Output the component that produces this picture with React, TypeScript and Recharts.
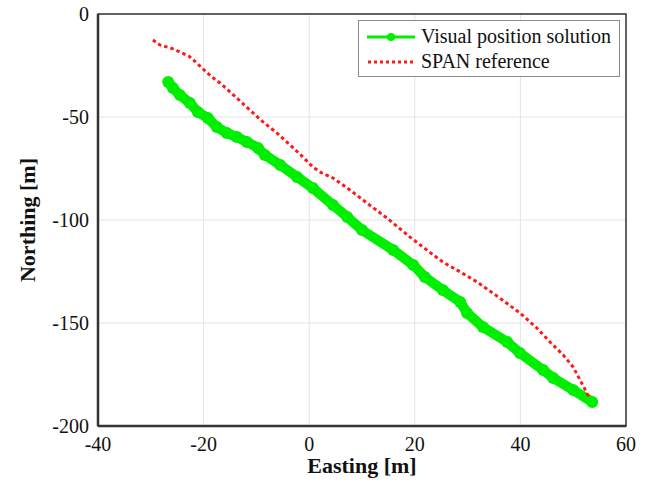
import { LineChart, Line, XAxis, YAxis, CartesianGrid, Legend, ReferenceArea } from 'recharts';

// Visual position solution (green)
const visualEast = [-26.7, -25.8, -24.5, -22.6, -21.1, -19.2, -17.5, -15.6, -13.7, -11.8, -9.7, -8.4, -5.5, -2.3, 0.7, 4.5, 7.2, 10.0, 15.9, 19.7, 21.9, 25.3, 28.6, 29.9, 32.9, 37.5, 39.9, 44.3, 46.2, 50.0, 53.6];
const visualNorth = [-33.0, -35.9, -39.3, -43.2, -47.6, -50.5, -54.9, -57.8, -59.7, -62.1, -65.0, -68.4, -73.3, -79.1, -84.5, -92.7, -98.5, -104.9, -114.6, -121.8, -127.7, -134.0, -139.8, -145.1, -151.9, -159.2, -164.6, -172.8, -176.7, -182.5, -188.3];

// SPAN reference (red dotted)
const spanEast = [-29.6, -28.3, -25.8, -24.1, -22.8, -21.3, -20.1, -18.4, -16.9, -15.6, -13.1, -10.6, -8.75, -6.1, -3.6, -1.2, 0.7, 2.4, 4.5, 7.7, 10.9, 14.7, 19.1, 22.3, 25.3, 28.6, 31.8, 36.1, 39.9, 43.1, 45.6, 48.1, 50.0, 51.3, 52.6, 53.2];
const spanNorth = [-12.6, -15.0, -16.9, -18.9, -20.4, -23.8, -26.7, -30.6, -33.5, -36.4, -42.2, -48.1, -52.4, -57.8, -63.6, -69.4, -74.3, -77.2, -79.6, -85.4, -91.7, -99.0, -108.3, -114.6, -120.4, -125.2, -130.1, -137.9, -145.1, -152.4, -159.2, -165.5, -171.4, -177.7, -184.0, -187.4];

const xTicks = [-40, -20, 0, 20, 40, 60];
const yTicks = [-200, -150, -100, -50, 0];

const visualData = visualEast.map((x, i) => ({ x, y: visualNorth[i] }));
const spanData = spanEast.map((x, i) => ({ x, y: spanNorth[i] }));

const FONT = '"Liberation Serif", "Times New Roman", serif';
const GREEN = '#00ee00';
const RED = '#ff1a1a';

function LegendBox() {
  return (
    <div
      style={{
        border: '1px solid #8a8a8a',
        background: '#fff',
        fontFamily: FONT,
        fontSize: 20,
        color: '#111',
        padding: '3px 6px 2px 8px',
        lineHeight: '25px',
        width: 246,
      }}
    >
      <div style={{ display: 'flex', alignItems: 'center' }}>
        <svg width={50} height={14} style={{ marginRight: 4 }}>
          <line x1={0} y1={7} x2={48} y2={7} stroke={GREEN} strokeWidth={3} />
          <circle cx={24} cy={7} r={4} fill={GREEN} />
        </svg>
        <span>Visual position solution</span>
      </div>
      <div style={{ display: 'flex', alignItems: 'center' }}>
        <svg width={50} height={14} style={{ marginRight: 4 }}>
          <line x1={1} y1={7} x2={48} y2={7} stroke={RED} strokeWidth={3} strokeDasharray="3 3" />
        </svg>
        <span>SPAN reference</span>
      </div>
    </div>
  );
}

export default function App() {
  return (
    <div style={{ position: 'absolute', left: 0, top: 0, width: 646, height: 488, background: '#fff' }}>
      <LineChart width={646} height={488} margin={{ top: 14, right: 20, left: 0, bottom: 0 }}>
        <CartesianGrid stroke="#e4e4e4" strokeWidth={1} />
        <XAxis
          type="number"
          dataKey="x"
          domain={[-40, 60]}
          ticks={xTicks}
          allowDataOverflow
          height={62}
          tickLine={false}
          tickSize={6}
          tickMargin={5}
          axisLine={{ stroke: '#333', strokeWidth: 2.5 }}
          tick={{ fill: '#111', fontSize: 20, fontFamily: FONT }}
          label={{ value: 'Easting [m]', position: 'insideBottom', offset: 15, fill: '#111', fontSize: 22, fontWeight: 'bold', fontFamily: FONT }}
        />
        <YAxis
          type="number"
          dataKey="y"
          domain={[-200, 0]}
          ticks={yTicks}
          allowDataOverflow
          width={98}
          tickLine={false}
          tickSize={4}
          tickMargin={5}
          axisLine={{ stroke: '#333', strokeWidth: 2.5 }}
          tick={{ fill: '#111', fontSize: 20, fontFamily: FONT }}
          label={{ value: 'Northing [m]', angle: -90, position: 'insideLeft', offset: 27, fill: '#111', fontSize: 22, fontWeight: 'bold', fontFamily: FONT, style: { textAnchor: 'middle' } }}
        />
        <ReferenceArea x1={-40} x2={60} y1={-200} y2={0} fill="none" stroke="#333" strokeWidth={1.5} />
        <Line
          data={visualData}
          dataKey="y"
          type="linear"
          stroke={GREEN}
          strokeWidth={10}
          strokeLinecap="round"
          strokeLinejoin="round"
          dot={{ r: 6, fill: GREEN, stroke: 'none' }}
          isAnimationActive={false}
        />
        <Line
          data={spanData}
          dataKey="y"
          type="linear"
          stroke={RED}
          strokeWidth={3}
          strokeDasharray="3.5 3"
          dot={false}
          isAnimationActive={false}
        />
        <Legend
          layout="horizontal"
          verticalAlign="middle"
          align="center"
          content={() => <LegendBox />}
          wrapperStyle={{ left: 358, top: 20, width: 262 }}
        />
      </LineChart>
    </div>
  );
}
